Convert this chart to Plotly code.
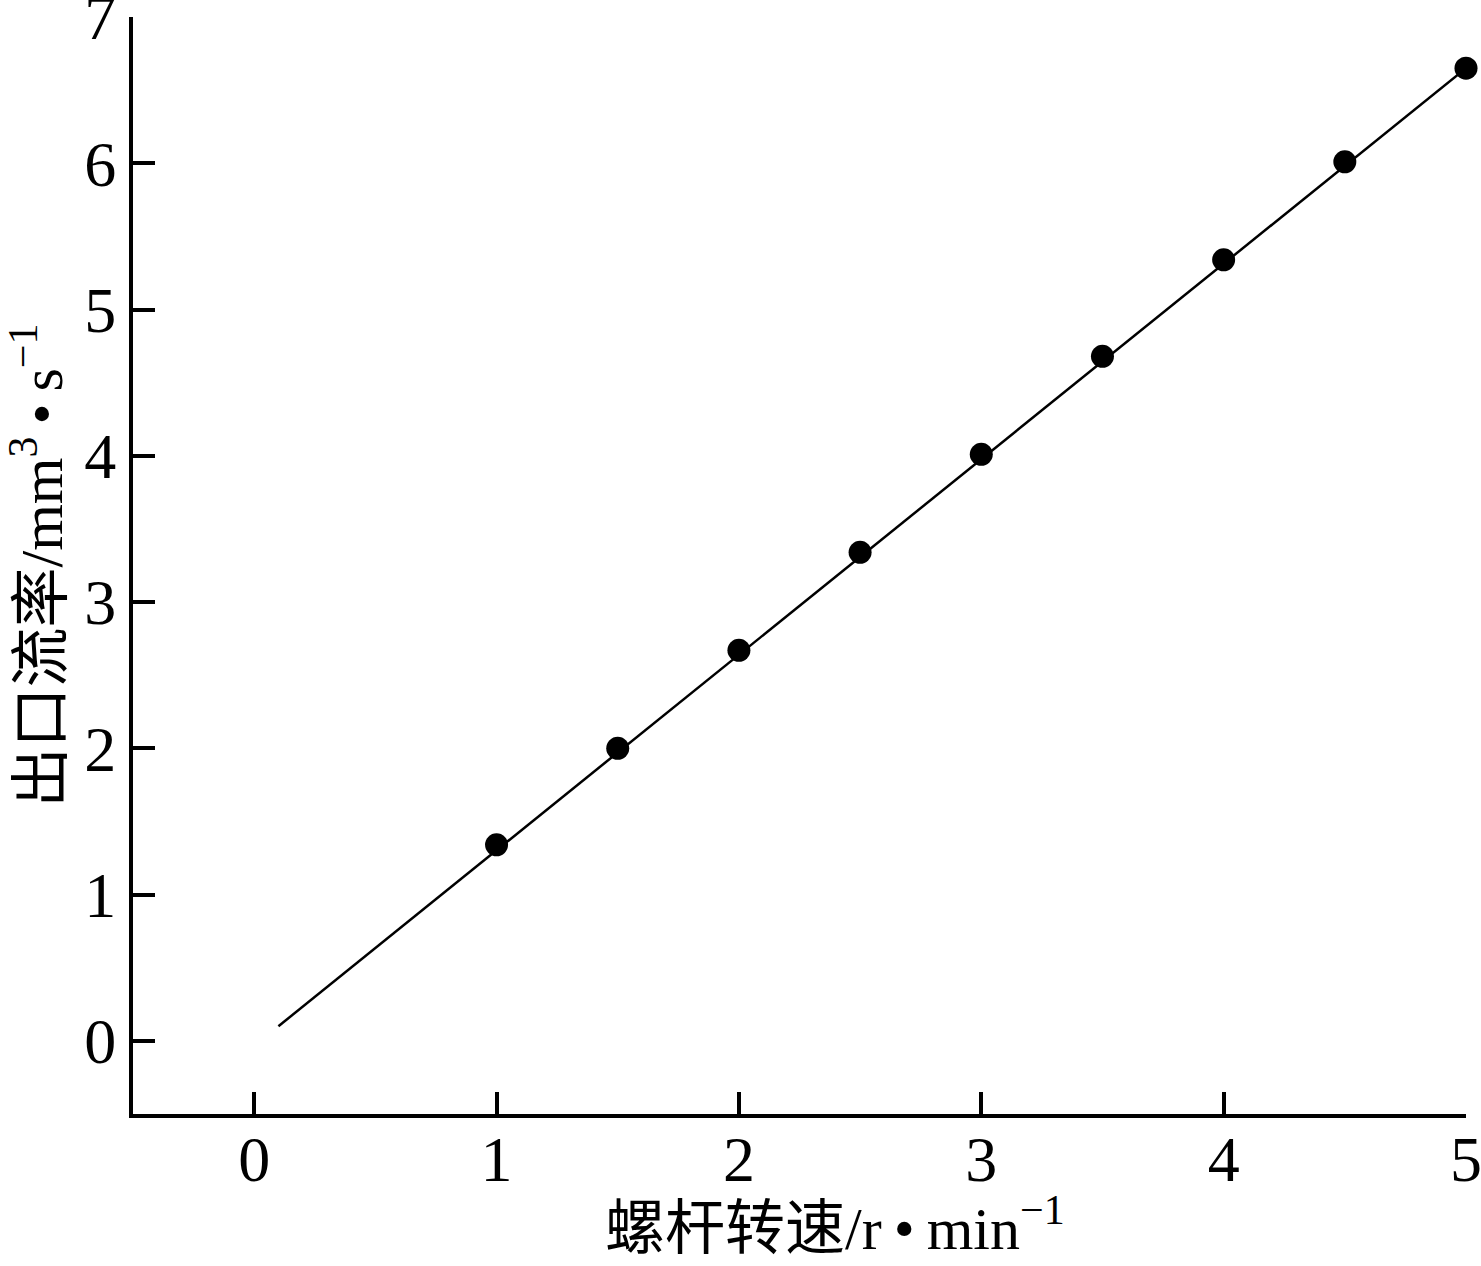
import plotly.graph_objects as go

speed = [1.0, 1.5, 2.0, 2.5, 3.0, 3.5, 4.0, 4.5, 5.0]
flow = [1.34, 2.00, 2.67, 3.34, 4.01, 4.68, 5.34, 6.01, 6.65]
fit_x = [0.1, 5.0]
fit_y = [0.10, 6.65]

x_ticks = [0, 1, 2, 3, 4, 5]
y_ticks = [0, 1, 2, 3, 4, 5, 6, 7]

x_title = "螺杆转速/r\u2009•\u2009min<sup>−1</sup>"
y_title = "出口流率/mm<sup>3</sup>\u2009•\u2009s<sup>−1</sup>"

FONT = "Liberation Serif, Times New Roman, Noto Sans CJK SC, serif"

fig = go.Figure()
fig.add_trace(go.Scatter(x=fit_x, y=fit_y, mode="lines",
                         line=dict(color="black", width=2.5),
                         showlegend=False, cliponaxis=False))
fig.add_trace(go.Scatter(x=speed, y=flow, mode="markers",
                         marker=dict(color="black", size=23),
                         showlegend=False, cliponaxis=False))

fig.update_layout(
    width=1481, height=1266,
    margin=dict(l=133, r=15, t=17, b=152),
    paper_bgcolor="white", plot_bgcolor="white",
    font=dict(family=FONT, color="black", size=60),
)
fig.update_xaxes(
    range=[-0.5, 5.0], tickvals=x_ticks, ticktext=[str(v) for v in x_ticks],
    showgrid=False, zeroline=False, showline=True, linecolor="black", linewidth=4,
    ticks="inside", ticklen=22, tickwidth=4, tickcolor="black",
    tickfont=dict(family=FONT, size=64), ticklabelstandoff=-14,
    ticklabeloverflow="allow", automargin=False,
)
fig.update_yaxes(
    range=[-0.5, 7.0], tickvals=y_ticks, ticktext=[str(v) for v in y_ticks],
    showgrid=False, zeroline=False, showline=True, linecolor="black", linewidth=4,
    ticks="inside", ticklen=22, tickwidth=4, tickcolor="black",
    tickfont=dict(family=FONT, size=64), ticklabelstandoff=0,
    ticklabeloverflow="allow", automargin=False,
    title=dict(text=y_title, font=dict(family=FONT, size=60), standoff=10),
)
fig.add_annotation(
    text=x_title, xref="paper", yref="paper", x=0.527, y=0,
    xanchor="center", yanchor="top", yshift=-72, showarrow=False,
    font=dict(family=FONT, size=60), borderpad=0,
)

fig.write_html(
    "out.html",
    config={"displayModeBar": False},
    post_script="document.body.style.margin='0';document.body.style.overflow='hidden';",
)
